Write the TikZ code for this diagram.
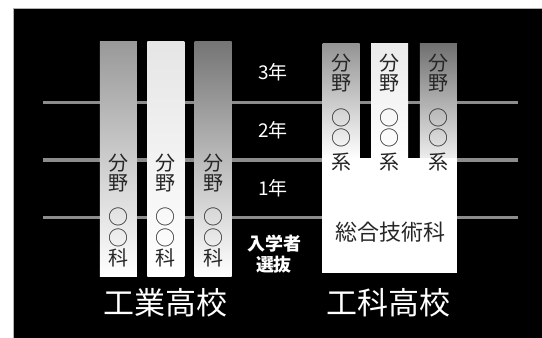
\documentclass[tikz,border=0pt]{standalone}
\usepackage{fontspec}
\setmainfont{Noto Sans CJK JP}
\definecolor{txt}{gray}{0.15}
\definecolor{linegray}{gray}{0.55}
\begin{document}
\begin{tikzpicture}[x=1pt,y=-1pt,
  bar/.style={rectangle, inner sep=0pt, minimum width=37pt, bottom color=white},
  yr/.style={text=white, font=\fontsize{19}{19}\selectfont, inner sep=0pt},
  ch/.style={text=txt, font=\fontsize{20}{20}\selectfont, inner sep=0pt},
  gridline/.style={draw=linegray, line width=3.5pt},
  school/.style={text=white, font=\fontsize{31}{31}\selectfont, inner sep=0pt},
]
\useasboundingbox (0,0) rectangle (542,338);
\fill[white] (0,0) rectangle (542,338);
\fill[black] (13,8.5) rectangle (542,338);
\draw[gray!60, line width=0.8pt] (13,338) |- (542,8.5);
% horizontal lines
\foreach \y/\n in {102.7/1,160/2,217.7/3}{
  \coordinate (la\n) at (43,\y);
  \coordinate (lb\n) at (518,\y);
  \draw[gridline] (la\n) -- (lb\n);
}
% left bars
\node[bar, minimum height=235pt, top color={rgb,1:red,0.6;green,0.6;blue,0.6}] (b1) at (118.3,159.2) {};
\node[bar, minimum height=235pt, top color={rgb,1:red,0.9;green,0.9;blue,0.9}] (b2) at (165.8,159.2) {};
\node[bar, minimum height=235pt, top color={rgb,1:red,0.46;green,0.46;blue,0.46}] (b3) at (213.2,159.2) {};
% right bars
\node[bar, minimum height=115pt, top color={rgb,1:red,0.58;green,0.58;blue,0.58}] (b4) at (341.2,100.8) {};
\node[bar, minimum height=115pt, top color={rgb,1:red,0.92;green,0.92;blue,0.92}] (b5) at (389.7,100.8) {};
\node[bar, minimum height=115pt, top color={rgb,1:red,0.44;green,0.44;blue,0.44}, bottom color={rgb,1:red,0.93;green,0.93;blue,0.93}] (b6) at (438.3,100.8) {};
% white box
\node[rectangle, fill=white, inner sep=0pt, minimum width=135.3pt, minimum height=115pt] (sogo) at (389.7,215.8) {};
% bar texts left
\foreach \x/\n in {118.3/1,165.8/2,213.2/3}{
  \node[ch] (lf\n) at (\x,163) {分};
  \node[ch] (ly\n) at (\x,183) {野};
  \node[ch] (lo\n) at (\x,217) {○};
  \node[ch] (lp\n) at (\x,238) {○};
  \node[ch] (lk\n) at (\x,258) {科};
}
% bar texts right
\foreach \x/\n in {341.2/4,389.7/5,438.3/6}{
  \node[ch] (rf\n) at (\x,63.3) {分};
  \node[ch] (ry\n) at (\x,83.3) {野};
  \node[ch] (ro\n) at (\x,118) {○};
  \node[ch] (rp\n) at (\x,138) {○};
  \node[ch] (rk\n) at (\x,161.7) {系};
}
\node[text=txt, font=\fontsize{22}{22}\selectfont, inner sep=0pt] (sogotext) at (390.8,231.7) {総合技術科};
% year labels
\node[yr] (y3) at (273,72) {3年};
\node[yr] (y2) at (273,130) {2年};
\node[yr] (y1) at (273,188) {1年};
\node[text=white, font=\bfseries\fontsize{18}{21}\selectfont, align=center, inner sep=0pt] (senbatsu) at (274,254) {入学者\\選抜};
% school names
\node[school] (kogyo) at (165,303) {工業高校};
\node[school] (koka) at (388.5,303) {工科高校};
\end{tikzpicture}
\end{document}
